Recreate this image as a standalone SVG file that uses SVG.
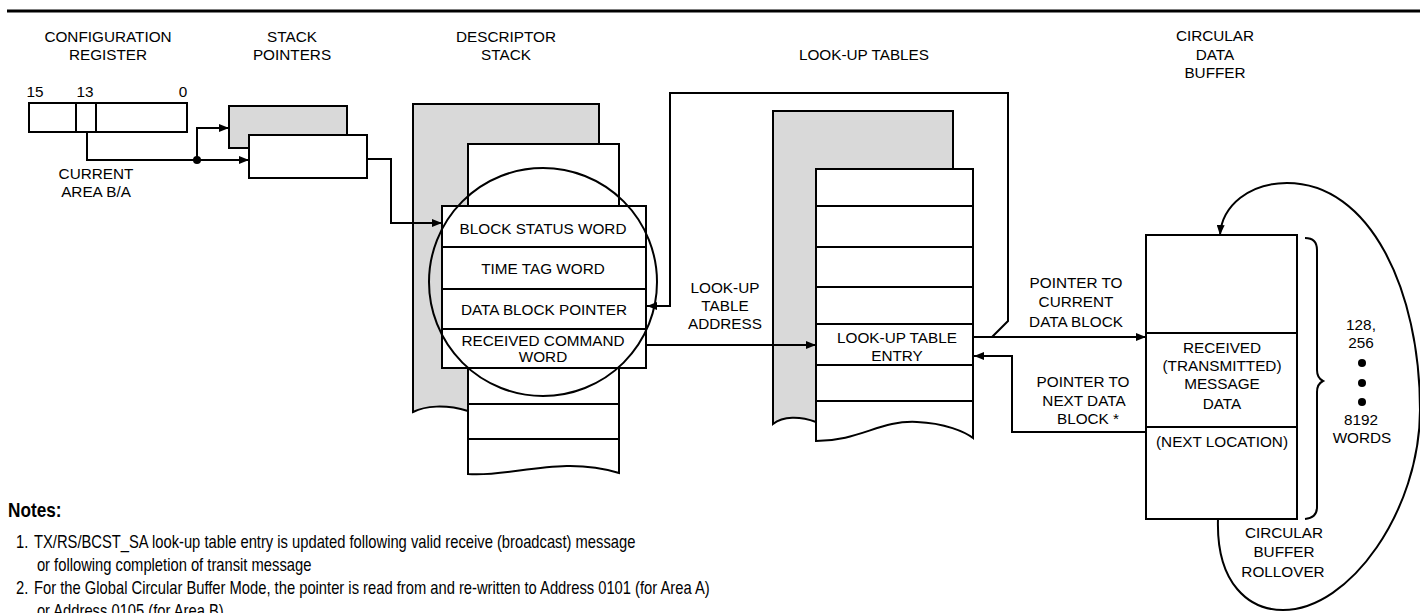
<svg xmlns="http://www.w3.org/2000/svg" width="1420" height="613" viewBox="0 0 1420 613">
<defs>
<style>
.t{font-family:"Liberation Sans",Arial,Helvetica,sans-serif;font-size:15.3px;fill:#000;text-anchor:middle}
.s{fill:none;stroke:#000;stroke-width:2}
.w{fill:#fff;stroke:#000;stroke-width:2}
.g{fill:#d9d9d9;stroke:#000;stroke-width:2}
.n{font-family:"Liberation Sans",Arial,Helvetica,sans-serif;font-size:18px;fill:#000}
.nb{font-weight:bold;font-size:21px}
</style>
<marker id="ah" viewBox="0 0 10 8" refX="10" refY="4" markerWidth="10" markerHeight="8" markerUnits="userSpaceOnUse" orient="auto"><path d="M0,0 L10,4 L0,8 Z" fill="#000"/></marker>
</defs>
<rect width="1420" height="613" fill="#fff"/>
<line x1="7" y1="11" x2="1420" y2="11" stroke="#000" stroke-width="3"/>

<g id="titles" class="t">
<text x="108" y="42">CONFIGURATION</text><text x="108" y="60">REGISTER</text>
<text x="292" y="42">STACK</text><text x="292" y="60">POINTERS</text>
<text x="506" y="42">DESCRIPTOR</text><text x="506" y="60">STACK</text>
<text x="864" y="60">LOOK-UP TABLES</text>
<text x="1215" y="41">CIRCULAR</text><text x="1215" y="59.5">DATA</text><text x="1215" y="78">BUFFER</text>
</g>

<g id="config-register">
<rect class="w" x="29" y="103" width="158" height="29"/>
<line class="s" x1="76" y1="103" x2="76" y2="132"/>
<line class="s" x1="96" y1="103" x2="96" y2="132"/>
<g class="t"><text x="35" y="97">15</text><text x="85" y="97">13</text><text x="183" y="97">0</text>
<text x="96" y="179">CURRENT</text><text x="96" y="197">AREA B/A</text></g>
</g>

<g id="stack-pointers">
<rect class="g" x="229" y="106" width="118" height="42"/>
<rect class="w" x="249" y="135" width="118" height="43"/>
</g>

<g id="descriptor-stack">
<path class="g" d="M413 104 H599 V200 H468 V411 C445 404,425 406,413 412 Z"/>
<path class="w" d="M468 144 H619 V473 C560 455,510 478,468 474 Z"/>
<line class="s" x1="468" y1="404" x2="619" y2="404"/>
<line class="s" x1="468" y1="439" x2="619" y2="439"/>
<rect class="w" x="442" y="206" width="204" height="162"/>
<line class="s" x1="442" y1="247" x2="646" y2="247"/>
<line class="s" x1="442" y1="289" x2="646" y2="289"/>
<line class="s" x1="442" y1="329" x2="646" y2="329"/>
<g class="t">
<text x="543" y="234">BLOCK STATUS WORD</text>
<text x="543" y="274">TIME TAG WORD</text>
<text x="544" y="315">DATA BLOCK POINTER</text>
<text x="543" y="346">RECEIVED COMMAND</text>
<text x="543" y="362">WORD</text>
</g>
<circle class="s" cx="543" cy="282" r="114"/>
</g>

<g id="look-up-tables">
<path class="g" d="M773 111 H953 V200 H816 V422 C800 416,783 416,773 424 Z"/>
<path class="w" d="M816 169 H973 V438 C965 432,945 423,917 422 C880 420,860 441,816 441 Z"/>
<line class="s" x1="816" y1="206" x2="973" y2="206"/>
<line class="s" x1="816" y1="247" x2="973" y2="247"/>
<line class="s" x1="816" y1="287" x2="973" y2="287"/>
<line class="s" x1="816" y1="324" x2="973" y2="324"/>
<line class="s" x1="816" y1="365" x2="973" y2="365"/>
<line class="s" x1="816" y1="401" x2="973" y2="401"/>
<g class="t"><text x="897" y="343">LOOK-UP TABLE</text><text x="897" y="361">ENTRY</text></g>
</g>

<g id="circular-data-buffer">
<rect class="w" x="1146" y="235" width="151" height="284"/>
<line class="s" x1="1146" y1="333" x2="1297" y2="333"/>
<line class="s" x1="1146" y1="427" x2="1297" y2="427"/>
<g class="t">
<text x="1222" y="353">RECEIVED</text>
<text x="1222" y="371">(TRANSMITTED)</text>
<text x="1222" y="389">MESSAGE</text>
<text x="1222" y="409">DATA</text>
<text x="1222" y="447">(NEXT LOCATION)</text>
</g>
<path class="s" d="M1305 238 Q1317 238 1317 250 V370 Q1317 378 1323 381 Q1317 384 1317 392 V507 Q1317 518 1305 519"/>
<g class="t">
<text x="1361" y="330">128,</text><text x="1361" y="348">256</text>
<text x="1361" y="425">8192</text><text x="1362" y="443">WORDS</text>
<text x="1284" y="538">CIRCULAR</text><text x="1284" y="557">BUFFER</text><text x="1283" y="577">ROLLOVER</text>
</g>
<circle cx="1362" cy="363" r="4"/><circle cx="1362" cy="383" r="4"/><circle cx="1362" cy="402" r="4"/>
</g>

<g id="connectors">
<path class="s" d="M87 132 V160 H249" marker-end="url(#ah)"/>
<path class="s" d="M197 160 V128 H229" marker-end="url(#ah)"/>
<circle cx="197" cy="160" r="4"/>
<path class="s" d="M367 159 H391 V223 H442" marker-end="url(#ah)"/>
<path class="s" d="M646 345 H816" marker-end="url(#ah)"/>
<path class="s" d="M973 337 H1146" marker-end="url(#ah)"/>
<path class="s" d="M992 337 L1008 321 V93 H670 V306 H647" marker-end="url(#ah)"/>
<path class="s" d="M1146 432 H1012 V356 H974" marker-end="url(#ah)"/>
<path class="s" d="M1218 519 C1216 585,1250 610,1283 610 C1350 610,1420 510,1420 410 C1420 290,1370 183,1287 183 C1250 183,1222 205,1220 235" marker-end="url(#ah)"/>
<g class="t">
<text x="725" y="293">LOOK-UP</text><text x="725" y="311">TABLE</text><text x="725" y="329">ADDRESS</text>
<text x="1076" y="288">POINTER TO</text><text x="1076" y="307">CURRENT</text><text x="1076" y="327">DATA BLOCK</text>
<text x="1083" y="387">POINTER TO</text><text x="1084" y="406">NEXT DATA</text><text x="1088" y="424">BLOCK *</text>
</g>
</g>

<g id="notes" class="n" transform="scale(0.82,1)">
<text class="nb" x="9.8" y="517">Notes:</text>
<text x="19.5" y="548">1.</text>
<text x="41.5" y="548">TX/RS/BCST_SA look-up table entry is updated following valid receive (broadcast) message</text>
<text x="45" y="571">or following completion of transit message</text>
<text x="19.5" y="594">2.</text>
<text x="41.5" y="594">For the Global Circular Buffer Mode, the pointer is read from and re-written to Address 0101 (for Area A)</text>
<text x="45" y="617">or Address 0105 (for Area B)</text>
</g>
</svg>
